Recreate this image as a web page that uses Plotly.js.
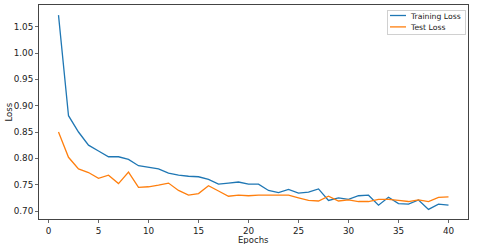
<!DOCTYPE html>
<html><head><meta charset="utf-8">
<script src="https://cdn.plot.ly/plotly-3.0.1.min.js"></script>
<style>html,body{margin:0;padding:0;background:#fff}#chart{width:478px;height:244px}</style>
</head><body><div id="chart"></div>
<script>
const epochs = [1,2,3,4,5,6,7,8,9,10,11,12,13,14,15,16,17,18,19,20,21,22,23,24,25,26,27,28,29,30,31,32,33,34,35,36,37,38,39,40];
const trainingLoss = [1.072,0.881,0.850,0.825,0.814,0.803,0.803,0.798,0.786,0.783,0.780,0.772,0.768,0.766,0.765,0.760,0.751,0.753,0.755,0.751,0.751,0.739,0.735,0.741,0.734,0.736,0.742,0.720,0.725,0.722,0.729,0.730,0.711,0.726,0.714,0.713,0.721,0.703,0.713,0.711];
const testLoss = [0.850,0.802,0.780,0.773,0.762,0.768,0.752,0.774,0.745,0.746,0.749,0.753,0.739,0.730,0.733,0.748,0.738,0.728,0.730,0.729,0.730,0.730,0.730,0.730,0.725,0.720,0.719,0.728,0.719,0.721,0.718,0.718,0.722,0.722,0.720,0.718,0.721,0.718,0.726,0.727];
const xTicks = [0,5,10,15,20,25,30,35,40];
const yTicks = [0.70,0.75,0.80,0.85,0.90,0.95,1.00,1.05];
const xTitle = 'Epochs';
const yTitle = 'Loss';

const font = {family:'DejaVu Sans', size:8.8, color:'#222'};
const titleFont = {family:'DejaVu Sans', size:8.5, color:'#222'};
const traces = [
  {x:epochs, y:trainingLoss, name:'Training Loss', mode:'lines', line:{color:'#1f77b4', width:1.3}},
  {x:epochs, y:testLoss, name:'Test Loss', mode:'lines', line:{color:'#ff7f0e', width:1.3}}
];
const axisCommon = {showline:true, mirror:true, linecolor:'#444', linewidth:1, ticks:'outside', ticklen:3, tickcolor:'#444', tickwidth:0.8, showgrid:false, zeroline:false, tickfont:font, automargin:false};
const layout = {
  width:478, height:244,
  margin:{l:39, r:10, t:5, b:25},
  paper_bgcolor:'#fff', plot_bgcolor:'#fff',
  font:font,
  showlegend:true,
  legend:{x:0.993, y:0.977, xanchor:'right', yanchor:'top', bgcolor:'rgba(255,255,255,0.8)', bordercolor:'#d0d0d0', borderwidth:1, font:{family:'DejaVu Sans', size:7.7, color:'#222'}, tracegroupgap:0, itemwidth:30},
  xaxis:Object.assign({}, axisCommon, {range:[-0.95,41.95], tickvals:xTicks, ticktext:xTicks.map(String)}),
  yaxis:Object.assign({}, axisCommon, {range:[0.6848,1.0912], tickvals:yTicks, ticktext:yTicks.map(v=>v.toFixed(2))}),
  annotations:[
    {text:xTitle, xref:'paper', yref:'paper', x:0.5, y:-0.096, xanchor:'center', yanchor:'middle', showarrow:false, font:titleFont},
    {text:yTitle, xref:'paper', yref:'paper', x:-0.0688, y:0.5, xanchor:'center', yanchor:'middle', showarrow:false, textangle:-90, font:titleFont}
  ]
};
Plotly.newPlot('chart', traces, layout, {displayModeBar:false, staticPlot:true}).then(gd => {
  // compact matplotlib-style legend: short line samples, tight rows
  const leg = gd.querySelector('g.legend');
  if (!leg) return;
  const boxLeft = 387, boxTop = 10, boxW = 78, boxH = 24, rowGap = 11.4, firstRow = 5.5;
  leg.setAttribute('transform', 'translate(' + boxLeft + ',' + boxTop + ')');
  const bg = leg.querySelector('rect.bg');
  if (bg) { bg.setAttribute('width', boxW); bg.setAttribute('height', boxH); bg.setAttribute('x', 0.5); bg.setAttribute('y', 0.5); }
  const sb = leg.querySelector('g.scrollbox');
  if (sb) sb.setAttribute('transform', 'translate(0,0)');
  leg.querySelectorAll('g.traces').forEach((g, i) => {
    g.setAttribute('transform', 'translate(1,' + (firstRow + rowGap * i) + ')');
  });
  leg.querySelectorAll('path.js-line').forEach(p => p.setAttribute('d', 'M2,0h16'));
  leg.querySelectorAll('text.legendtext').forEach(t => t.setAttribute('x', 23));
});
</script></body></html>
